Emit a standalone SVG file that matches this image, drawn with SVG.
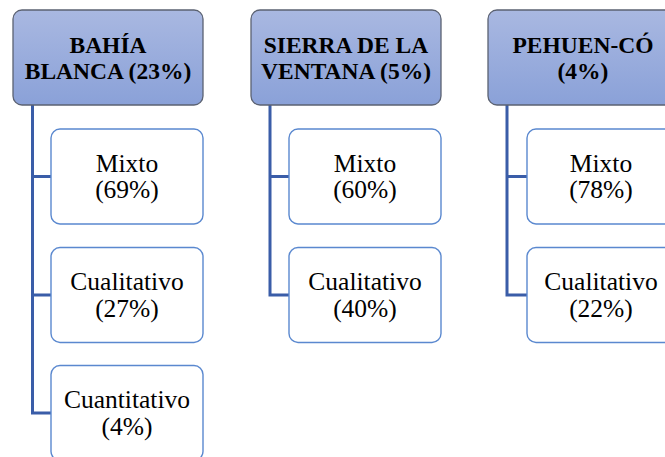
<svg xmlns="http://www.w3.org/2000/svg" width="665" height="457" viewBox="0 0 665 457">
<defs>
<linearGradient id="hg" x1="0" y1="0" x2="0" y2="1">
<stop offset="0" stop-color="#a9b8e1"/>
<stop offset="1" stop-color="#8aa1d8"/>
</linearGradient>
</defs>
<style>
.hdr{fill:url(#hg);stroke:#5b6272;stroke-width:1.3}
.chd{fill:#ffffff;stroke:#5a88cf;stroke-width:1.4}
.con{fill:none;stroke:#3a5da8;stroke-width:3}
.ht{font-family:'Liberation Serif','Times New Roman',serif;font-weight:bold;font-size:23.5px;fill:#000;text-anchor:middle}
.ct{font-family:'Liberation Serif','Times New Roman',serif;font-size:25.5px;fill:#000;text-anchor:middle}
</style>
<rect width="665" height="457" fill="#ffffff"/>
<g id="connectors">
<path class="con" d="M32.5,105 V413 H51 M32.5,176.5 H51 M32.5,295 H51"/>
<path class="con" d="M270,105 V295 H289 M270,176.5 H289"/>
<path class="con" d="M507,105 V295 H527 M507,176.5 H527"/>
</g>
<g id="n-bahia">
<rect class="hdr" x="13" y="10" width="190" height="95" rx="9"/>
<text class="ht" x="108" y="52.5">BAHÍA</text>
<text class="ht" x="108" y="78.5">BLANCA (23%)</text>
</g>
<g id="n-bb-mixto">
<rect class="chd" x="51" y="129" width="152" height="95" rx="9"/>
<text class="ct" x="127" y="171.5">Mixto</text>
<text class="ct" x="127" y="198">(69%)</text>
</g>
<g id="n-bb-cual">
<rect class="chd" x="51" y="247.5" width="152" height="95" rx="9"/>
<text class="ct" x="127" y="290">Cualitativo</text>
<text class="ct" x="127" y="316.5">(27%)</text>
</g>
<g id="n-bb-cuan">
<rect class="chd" x="51" y="365.5" width="152" height="95" rx="9"/>
<text class="ct" x="127" y="408">Cuantitativo</text>
<text class="ct" x="127" y="434.5">(4%)</text>
</g>
<g id="n-sierra">
<rect class="hdr" x="251" y="10" width="190" height="95" rx="9"/>
<text class="ht" x="346" y="52.5">SIERRA DE LA</text>
<text class="ht" x="346" y="78.5">VENTANA (5%)</text>
</g>
<g id="n-sv-mixto">
<rect class="chd" x="289" y="129" width="152" height="95" rx="9"/>
<text class="ct" x="365" y="171.5">Mixto</text>
<text class="ct" x="365" y="198">(60%)</text>
</g>
<g id="n-sv-cual">
<rect class="chd" x="289" y="247.5" width="152" height="95" rx="9"/>
<text class="ct" x="365" y="290">Cualitativo</text>
<text class="ct" x="365" y="316.5">(40%)</text>
</g>
<g id="n-pehuen">
<rect class="hdr" x="488" y="10" width="190" height="95" rx="9"/>
<text class="ht" x="583" y="52.5">PEHUEN-CÓ</text>
<text class="ht" x="583" y="78.5">(4%)</text>
</g>
<g id="n-pc-mixto">
<rect class="chd" x="527" y="129" width="152" height="95" rx="9"/>
<text class="ct" x="601" y="171.5">Mixto</text>
<text class="ct" x="601" y="198">(78%)</text>
</g>
<g id="n-pc-cual">
<rect class="chd" x="527" y="247.5" width="152" height="95" rx="9"/>
<text class="ct" x="601" y="290">Cualitativo</text>
<text class="ct" x="601" y="316.5">(22%)</text>
</g>
</svg>
